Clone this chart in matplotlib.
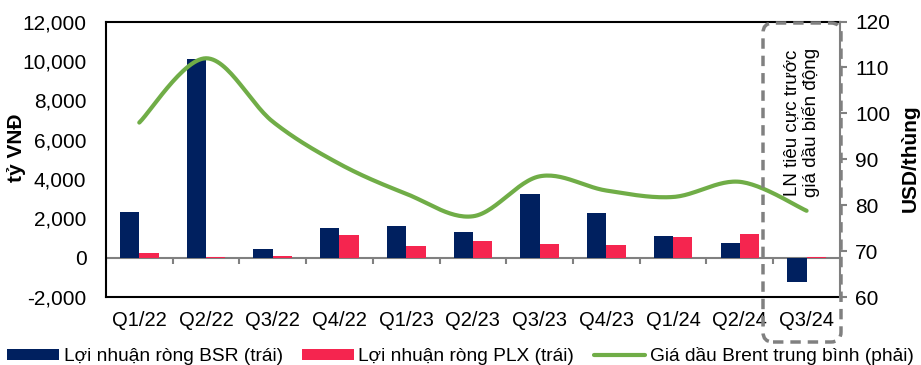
import numpy as np
import matplotlib.pyplot as plt
from matplotlib.patches import FancyBboxPatch

plt.rcParams['font.family'] = ['Liberation Sans', 'DejaVu Sans']

# du lieu
quarters = ['Q1/22', 'Q2/22', 'Q3/22', 'Q4/22', 'Q1/23', 'Q2/23',
            'Q3/23', 'Q4/23', 'Q1/24', 'Q2/24', 'Q3/24']
bsr = [2300, 10100, 450, 1500, 1600, 1320, 3250, 2250, 1120, 760, -1230]
plx = [230, 20, 100, 1170, 610, 830, 710, 625, 1070, 1190, 30]
brent = [98.0, 112.0, 98.2, 89.0, 82.5, 77.6, 86.3, 83.2, 81.8, 85.1, 78.8]

NAVY = '#00205F'
RED = '#F5254F'
GREEN = '#70AD47'
GRAY = '#808080'


def catmull(x, y, n=30):
    # duong cong tron kieu Excel
    x = np.asarray(x, float)
    y = np.asarray(y, float)
    px = np.concatenate([[x[0]], x, [x[-1]]])
    py = np.concatenate([[y[0]], y, [y[-1]]])
    xs, ys = [], []
    t = np.linspace(0, 1, n)
    for i in range(1, len(px) - 2):
        p0, p1, p2, p3 = py[i-1], py[i], py[i+1], py[i+2]
        q0, q1, q2, q3 = px[i-1], px[i], px[i+1], px[i+2]
        c1y = p1 + (p2 - p0) / 6
        c2y = p2 - (p3 - p1) / 6
        c1x = q1 + (q2 - q0) / 6
        c2x = q2 - (q3 - q1) / 6
        bx = (1-t)**3*q1 + 3*(1-t)**2*t*c1x + 3*(1-t)*t**2*c2x + t**3*q2
        by = (1-t)**3*p1 + 3*(1-t)**2*t*c1y + 3*(1-t)*t**2*c2y + t**3*p2
        xs.append(bx)
        ys.append(by)
    return np.concatenate(xs), np.concatenate(ys)


fig = plt.figure(figsize=(9.21, 3.65), dpi=100)
ax = fig.add_axes([0.115, 0.186, 0.797, 0.755])
ax2 = ax.twinx()

x = np.arange(len(quarters))
w = 0.29
b1 = ax.bar(x - w/2, bsr, w, color=NAVY, label='Lợi nhuận ròng BSR (trái)', zorder=3)
b2 = ax.bar(x + w/2, plx, w, color=RED, label='Lợi nhuận ròng PLX (trái)', zorder=3)

ax.axhline(0, color=GRAY, lw=1.5, zorder=2)
ax.vlines(np.arange(-0.5, len(quarters) - 1, 1.0), -300, 0, color=GRAY, lw=1.5, zorder=2)

ax.set_xlim(-0.5, len(quarters) - 0.5)
ax.set_ylim(-2000, 12000)
ax.set_yticks(np.arange(-2000, 12001, 2000))
ax.set_yticklabels([f'{v:,}' for v in range(-2000, 12001, 2000)])
ax.set_xticks(x)
ax.set_xticklabels(quarters)
ax.tick_params(axis='y', length=0, pad=14, labelsize=15)
ax.tick_params(axis='x', length=0, pad=10, labelsize=14.5)

for s in ['left', 'top', 'bottom']:
    ax.spines[s].set_color('black')
    ax.spines[s].set_linewidth(1.5)
ax.spines['right'].set_visible(False)

sx, sy = catmull(x, brent)
ln, = ax2.plot(sx, sy, color=GREEN, lw=3, label='Giá dầu Brent trung bình (phải)',
               solid_capstyle='round', zorder=4)
ax2.set_ylim(60, 120)
ax2.set_yticks(np.arange(60, 121, 10))
ax2.tick_params(axis='y', length=5, width=1.5, color=GRAY, pad=6, labelsize=15)
ax2.spines['right'].set_color(GRAY)
ax2.spines['right'].set_linewidth(1.5)
for s in ['left', 'top', 'bottom']:
    ax2.spines[s].set_visible(False)

fig.text(17/921, 1 - 148/365, 'tỷ VNĐ', rotation=90, ha='center', va='center',
         fontsize=15, fontweight='bold')
fig.text(910/921, 1 - 158/365, 'USD/thùng', rotation=90, ha='center', va='center',
         fontsize=15, fontweight='bold')

# khung ghi chu (don vi inch)
box = FancyBboxPatch((7.63, 0.23), 0.78, 3.19,
                     boxstyle='round,pad=0,rounding_size=0.1',
                     transform=fig.dpi_scale_trans, fill=False,
                     ec=GRAY, lw=2.5, ls=(0, (3, 2)), zorder=5)
fig.add_artist(box)
ax2.text(9.93, 98, 'LN tiêu cực trước\ngiá dầu biến động', rotation=90,
         ha='center', va='center', fontsize=13.5, linespacing=1.05, zorder=6)

fig.legend(handles=[b1, b2, ln], loc='center', bbox_to_anchor=(0.5, 0.025),
           ncol=3, frameon=False, fontsize=13.8, handlelength=2.7, handleheight=0.5,
           handletextpad=0.25, columnspacing=1.0, borderaxespad=0)

fig.savefig('out.png', dpi=100)
